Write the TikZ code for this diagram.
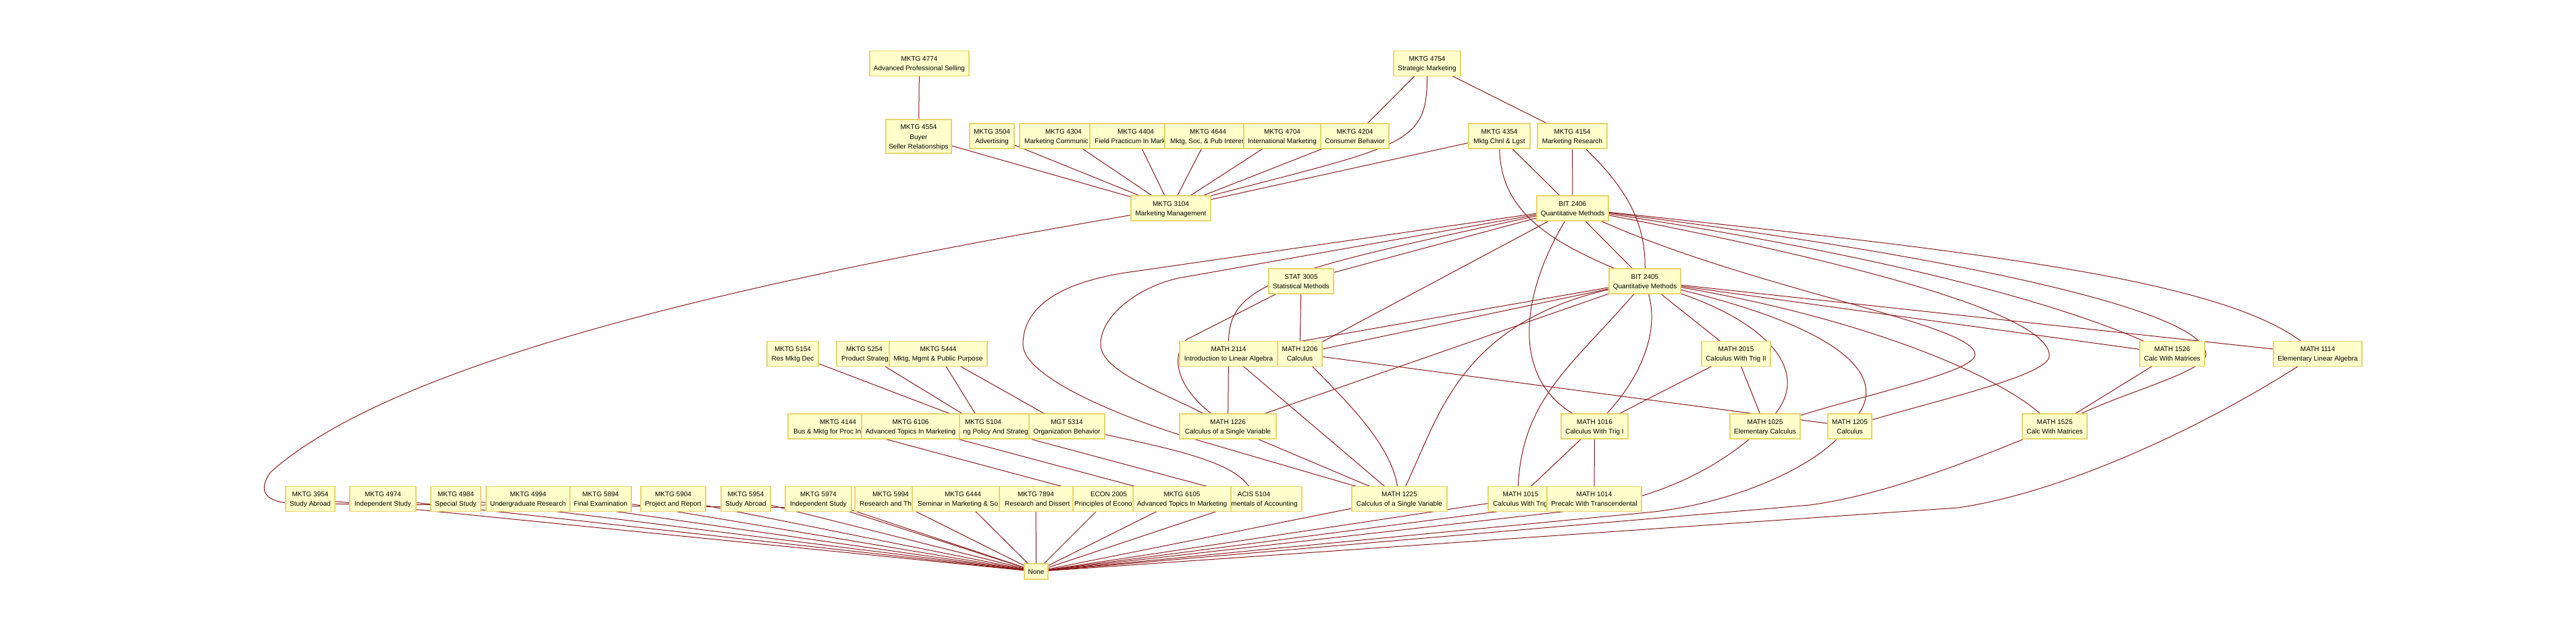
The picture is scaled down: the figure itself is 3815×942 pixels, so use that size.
\documentclass[tikz,border=0pt]{standalone}
\usepackage{fontspec}
\setmainfont{Liberation Sans}
\usetikzlibrary{backgrounds}
\definecolor{boxfill}{HTML}{FFFFCC}
\definecolor{boxline}{HTML}{E6D46E}
\definecolor{edgecol}{HTML}{8B1A1A}
\tikzset{
 cbox/.style={draw=boxline, fill=boxfill, line width=1.6pt, inner sep=0pt, outer sep=0pt, rectangle},
 ltext/.style={font=\fontsize{10}{14}\selectfont, inner sep=0pt, text=black},
 conn/.style={draw=edgecol, line width=1pt},
}
\newcommand\Cbox[5]{\node[cbox, minimum width=#4pt, minimum height=#5pt] (#1) at (#2,#3) {};}
\newcommand\Cline[3]{\node[ltext, anchor=base] at (#1,#2+3.6) {#3};}
\newcommand\ClineW[3]{\node[ltext, anchor=base west] at (#1,#2+3.6) {#3};}
\newcommand\ClineE[3]{\node[ltext, anchor=base east] at (#1,#2+3.6) {#3};}
\newcommand\Ctwo[6]{\Cbox{#1}{#2}{#3}{#4}{37}\Cline{#2}{#3-7}{#5}\Cline{#2}{#3+7}{#6}}
\newcommand\Ctr[8]{\Cbox{#1}{#2}{#3}{#4}{37}%
 \begin{scope}\clip (#1.north west) rectangle ([xshift=-0.8pt]#1.south east);
 \Cline{#5}{#3-7}{#6}\ClineW{#7}{#3+7}{#8}\end{scope}}
\begin{document}
\begin{tikzpicture}[x=1pt,y=-1pt]
\useasboundingbox (0,0) rectangle (3815,942);
% row 1
\Ctwo{n4774}{1361.5}{94}{147}{MKTG 4774}{Advanced Professional Selling}
\Ctwo{n4754}{2113.5}{94}{99}{MKTG 4754}{Strategic Marketing}
% row 2
\Cbox{n4554}{1360.5}{202}{97}{50}
\Cline{1360.5}{188}{MKTG 4554}\Cline{1360.5}{202.5}{Buyer}\Cline{1360.5}{217}{Seller Relationships}
\Ctwo{n3504}{1469}{201.5}{66}{MKTG 3504}{Advertising}
\Ctr{n4304}{1562}{201.5}{104}{1575}{MKTG 4304}{1517}{Marketing Communic}
\Ctr{n4404}{1669.5}{201.5}{111}{1682}{MKTG 4404}{1621}{Field Practicum In Mark}
\Ctr{n4644}{1783.5}{201.5}{117}{1789}{MKTG 4644}{1733}{Mktg, Soc, \& Pub Interes}
\Ctwo{n4704}{1899}{201.5}{114}{MKTG 4704}{International Marketing}
\Ctwo{n4204}{2006.5}{201.5}{101}{MKTG 4204}{Consumer Behavior}
\Ctwo{n4354}{2220.5}{201.5}{91}{MKTG 4354}{Mktg Chnl \& Lgst}
\Ctwo{n4154}{2328.5}{201.5}{103}{MKTG 4154}{Marketing Research}
% row 3
\Ctwo{n3104}{1734}{308.5}{118}{MKTG 3104}{Marketing Management}
\Ctwo{b2406}{2329}{308.5}{106}{BIT 2406}{Quantitative Methods}
% row 4
\Ctwo{s3005}{1927}{416.5}{96}{STAT 3005}{Statistical Methods}
\Ctwo{b2405}{2436}{416.5}{106}{BIT 2405}{Quantitative Methods}
% row 5
\Ctwo{n5154}{1174}{524}{76}{MKTG 5154}{Res Mktg Dec}
\Ctr{n5254}{1278}{524}{78}{1280}{MKTG 5254}{1246}{Product Strateg}
\Ctwo{n5444}{1389.5}{524}{145}{MKTG 5444}{Mktg, Mgmt \& Public Purpose}
\Ctwo{m2114}{1819.5}{524}{145}{MATH 2114}{Introduction to Linear Algebra}
\Ctwo{m1206}{1925}{524}{66}{MATH 1206}{Calculus}
\Ctwo{m2015}{2571}{524}{102}{MATH 2015}{Calculus With Trig II}
\Ctwo{m1526}{3217}{524}{96}{MATH 1526}{Calc With Matrices}
\Ctwo{m1114}{3432.5}{524}{131}{MATH 1114}{Elementary Linear Algebra}
% row 6
\Ctr{n4144}{1221.5}{631.5}{109}{1241}{MKTG 4144}{1175}{Bus \& Mktg for Proc In}
\Ctwo{n6106}{1348.5}{631.5}{145}{MKTG 6106}{Advanced Topics In Marketing}
\Cbox{n5104}{1472.5}{631.5}{103}{37}
\begin{scope}\clip (n5104.north west) rectangle ([xshift=-0.8pt]n5104.south east);
\Cline{1456}{624.5}{MKTG 5104}\ClineE{1528}{638.5}{ng Policy And Strategy}\end{scope}
\Ctwo{g5314}{1580}{631.5}{112}{MGT 5314}{Organization Behavior}
\Ctwo{m1226}{1818.5}{631.5}{143}{MATH 1226}{Calculus of a Single Variable}
\Ctwo{m1016}{2361.5}{631.5}{99}{MATH 1016}{Calculus With Trig I}
\Ctwo{m1025}{2614}{631.5}{104}{MATH 1025}{Elementary Calculus}
\Ctwo{m1205}{2739.5}{631.5}{65}{MATH 1205}{Calculus}
\Ctwo{m1525}{3043}{631.5}{96}{MATH 1525}{Calc With Matrices}
% row 7
\Ctwo{n3954}{459.5}{739}{73}{MKTG 3954}{Study Abroad}
\Ctwo{n4974}{567}{739}{98}{MKTG 4974}{Independent Study}
\Ctwo{n4984}{675}{739}{74}{MKTG 4984}{Special Study}
\Ctwo{n4994}{782}{739}{124}{MKTG 4994}{Undergraduate Research}
\Ctwo{n5894}{889.5}{739}{91}{MKTG 5894}{Final Examination}
\Ctwo{n5904}{997}{739}{96}{MKTG 5904}{Project and Report}
\Ctwo{n5954}{1104.5}{739}{73}{MKTG 5954}{Study Abroad}
\Ctwo{n5974}{1212}{739}{98}{MKTG 5974}{Independent Study}
\Ctr{n5994}{1308.5}{739}{85}{1319}{MKTG 5994}{1273}{Research and Th}
\Ctr{n6444}{1415.5}{739}{129}{1426}{MKTG 6444}{1359}{Seminar in Marketing \& So}
\Ctr{n7894}{1534.5}{739}{109}{1534}{MKTG 7894}{1488}{Research and Dissert}
\Ctr{e2005}{1633.5}{739}{89}{1642}{ECON 2005}{1591}{Principles of Econo}
\Ctwo{n6105}{1750.5}{739}{145}{MKTG 6105}{Advanced Topics In Marketing}
\Cbox{a5104}{1875.5}{739}{105}{37}
\begin{scope}\clip ([xshift=0.8pt]a5104.north west) rectangle (a5104.south east);
\Cline{1857}{732}{ACIS 5104}\ClineE{1922}{746}{mentals of Accounting}\end{scope}
\Ctwo{m1225}{2072.5}{739}{141}{MATH 1225}{Calculus of a Single Variable}
\Ctr{m1015}{2247.5}{739}{87}{2252}{MATH 1015}{2211}{Calculus With Trig}
\Ctwo{m1014}{2361}{739}{140}{MATH 1014}{Precalc With Transcendental}
% row 8
\Cbox{none}{1534.5}{846.5}{35}{23}\Cline{1534.5}{846.5}{None}
% true centres of partly covered boxes
\coordinate (n4304c) at (1575,201.5);
\coordinate (n4404c) at (1682,201.5);
\coordinate (n4644c) at (1789,201.5);
\coordinate (n5254c) at (1280,524);
\coordinate (n4144c) at (1241,631.5);
\coordinate (n5104c) at (1456,631.5);
\coordinate (n5994c) at (1319,739);
\coordinate (n6444c) at (1426,739);
\coordinate (n7894c) at (1534,739);
\coordinate (e2005c) at (1642,739);
\coordinate (a5104c) at (1857,739);
\coordinate (m1015c) at (2252,739);
\begin{pgfonlayer}{background}
\fill[white] (0,0) rectangle (3815,942);
\begin{scope}[conn]
\draw (n4774) -- (n4554);
\draw (n4554) -- (n3104);
\draw (n3504) -- (n3104);
\draw (n4304c) -- (n3104);
\draw (n4404c) -- (n3104);
\draw (n4644c) -- (n3104);
\draw (n4704) -- (n3104);
\draw (n4204) -- (n3104);
\draw (n4754) -- (n4204);
\draw (n4754.south) .. controls (2114,215) and (2080,215) .. (n3104.north east);
\draw (n4754) -- (n4154);
\draw (n4354) -- (n3104);
\draw (n4354) -- (b2406);
\draw (n4354) .. controls (2222,310) and (2290,355) .. (b2405);
\draw (n4154) -- (b2406);
\draw (n4154) .. controls (2410,280) and (2437,330) .. (b2405);
\draw (b2406) -- (s3005);
\draw (b2406) .. controls (1900,400) and (1820,420) .. (m2114);
\draw (b2406) -- (1680,402) .. controls (1560,418) and (1515,460) .. (1515,510) .. controls (1515,555) and (1640,610) .. (1750,645) -- (m1225);
\draw (b2406) -- (1745,412) .. controls (1690,424) and (1630,465) .. (1630,510) .. controls (1630,550) and (1720,580) .. (m1226);
\draw (s3005) -- (1757,503) .. controls (1732,530) and (1745,575) .. (m1226);
\draw (s3005) -- (m1206);
\draw (b2406) -- (m1206);
\draw (b2406) .. controls (2250,440) and (2240,560) .. (m1016);
\draw (b2406) -- (b2405);
\draw (b2406) .. controls (2600,430) and (2925,480) .. (2925,525) .. controls (2925,550) and (2780,580) .. (m1025);
\draw (b2406) .. controls (2700,380) and (3035,460) .. (3035,527) .. controls (3035,555) and (2880,590) .. (m1205);
\draw (b2406) .. controls (2900,380) and (3267,460) .. (3267,525) .. controls (3267,550) and (3150,580) .. (m1525);
\draw (b2406) .. controls (2800,380) and (3050,450) .. (m1526);
\draw (b2406) .. controls (2900,370) and (3280,410) .. (m1114);
\draw (b2405) -- (m2114);
\draw (b2405) -- (m1206);
\draw (b2405) -- (m1226);
\draw (b2405) .. controls (2160,480) and (2130,620) .. (m1225);
\draw (b2405) .. controls (2330,540) and (2254,590) .. (m1015);
\draw (b2405) .. controls (2460,500) and (2420,570) .. (m1016);
\draw (b2405) -- (m2015);
\draw (b2405) .. controls (2620,480) and (2680,550) .. (m1025);
\draw (b2405) .. controls (2740,490) and (2790,560) .. (m1205);
\draw (b2405) .. controls (2750,470) and (2950,550) .. (m1525);
\draw (b2405) -- (m1526);
\draw (b2405) -- (m1114);
\draw (m2015) -- (m1016);
\draw (m2015) -- (m1025);
\draw (m1206) -- (m1205);
\draw (m1526) -- (m1525);
\draw (m2114) -- (m1226);
\draw (m2114) -- (m1225);
\draw (m1206) .. controls (2000,600) and (2060,660) .. (m1225);
\draw (m1226) -- (m1225);
\draw (m1016) -- (m1015);
\draw (m1016) -- (m1014);
\draw (n5154) -- (n5104c);
\draw (n5254c) -- (n5104c);
\draw (n5444) -- (n5104c);
\draw (n5444) -- (g5314);
\draw (n4144c) -- (e2005c);
\draw (n6106) -- (n6105);
\draw (n5104c) -- (a5104c);
\draw (g5314) .. controls (1760,670) and (1850,690) .. (a5104c);
\foreach \s in {n3954,n4974,n4984,n4994,n5894,n5904,n5954,n5974,n5994c,n6444c,n7894c,e2005c,n6105,a5104c,m1225,m1015,m1014}
  \draw (\s) -- (none);
\draw (m1025) .. controls (2530,700) and (2450,740) .. (2330,756) -- (none);
\draw (m1205) .. controls (2670,700) and (2560,745) .. (2450,758) -- (none);
\draw (m1525) .. controls (2900,690) and (2780,735) .. (2680,748) -- (none);
\draw (m1114) .. controls (3250,640) and (3050,730) .. (2900,752) -- (none);
\draw (n3104) .. controls (1200,400) and (600,520) .. (400,700) .. controls (380,730) and (395,745) .. (440,746) -- (1240,752) -- (none);
\end{scope}
\end{pgfonlayer}
\end{tikzpicture}
\end{document}
